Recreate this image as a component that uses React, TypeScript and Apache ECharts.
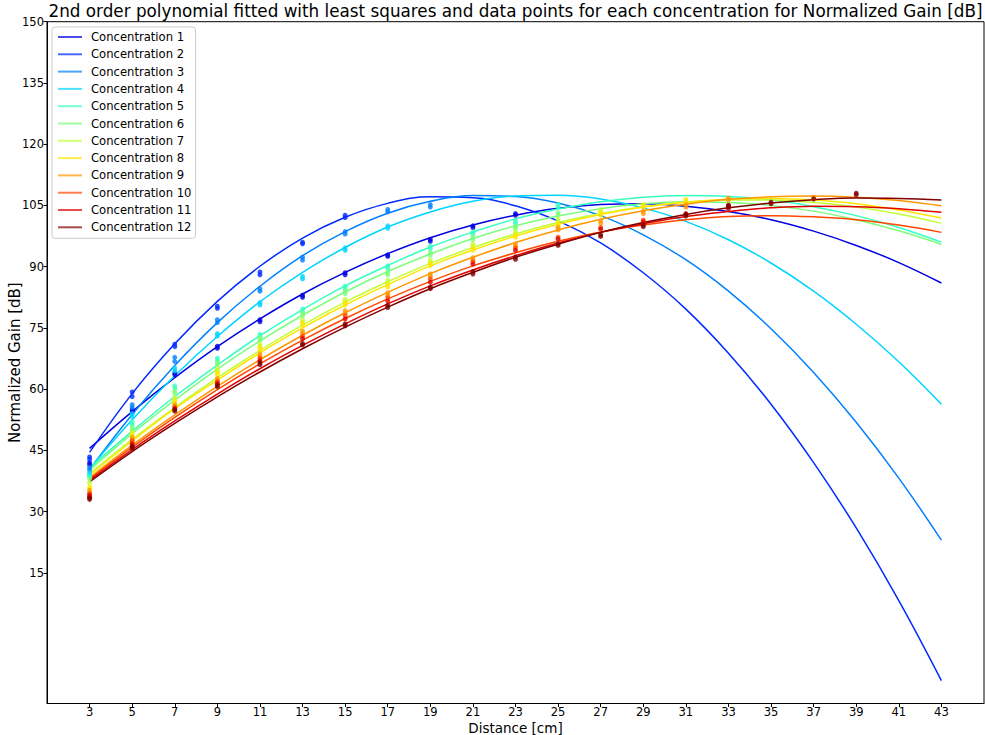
import React, { useEffect, useRef } from "react";
import * as echarts from "echarts";

const TITLE =
  "2nd order polynomial fitted with least squares and data points for each concentration for Normalized Gain [dB]";
const X_NAME = "Distance [cm]";
const Y_NAME = "Normalized Gain [dB]";

const distances = [3, 5, 7, 9, 11, 13, 15, 17, 19, 21, 23, 25, 27, 29, 31, 33, 35, 37, 39, 41, 43];
const xTicks = [3, 5, 7, 9, 11, 13, 15, 17, 19, 21, 23, 25, 27, 29, 31, 33, 35, 37, 39, 41, 43];
const yTicks = [15, 30, 45, 60, 75, 90, 105, 120, 135, 150];

const names = [
  "Concentration 1", "Concentration 2", "Concentration 3", "Concentration 4",
  "Concentration 5", "Concentration 6", "Concentration 7", "Concentration 8",
  "Concentration 9", "Concentration 10", "Concentration 11", "Concentration 12",
];

const colors = [
  "#0000e0", "#002aff", "#0080ff", "#00d4ff", "#36ffc0", "#7bff7b",
  "#c0ff36", "#ffe600", "#ff9700", "#ff4800", "#e00000", "#800000",
];

// fitted curve values at each distance
const fit1 = [45.5, 54.5, 62.8, 70.4, 77.2, 83.3, 88.6, 93.2, 97.1, 100.2, 102.6, 104.3, 105.2, 105.4, 104.8, 103.5, 101.5, 98.7, 95.2, 91.0, 86.0];
const fit2 = [44.5, 58.9, 71.1, 81.5, 90.1, 97.0, 102.1, 105.5, 107.1, 106.9, 104.9, 101.2, 95.8, 88.5, 79.6, 68.8, 56.3, 42.0, 26.0, 8.2, -11.4];
const fit3 = [40.3, 53.8, 65.8, 76.3, 85.2, 92.7, 98.6, 103.1, 106.0, 107.4, 107.2, 105.6, 102.5, 97.8, 91.7, 84.0, 74.8, 64.1, 51.9, 38.2, 23.0];
const fit4 = [40.5, 52.5, 63.3, 72.9, 81.4, 88.6, 94.7, 99.7, 103.4, 106.0, 107.3, 107.5, 106.6, 104.4, 101.1, 96.6, 90.9, 84.0, 75.9, 66.7, 56.3];
const fit5 = [40.7, 49.7, 58.2, 65.9, 73.1, 79.5, 85.3, 90.3, 94.8, 98.5, 101.7, 104.1, 105.9, 107.0, 107.4, 107.2, 106.3, 104.7, 102.5, 99.6, 96.0];
const fit6 = [40.2, 49.1, 57.3, 64.9, 71.8, 78.1, 83.8, 88.8, 93.1, 96.9, 100.0, 102.4, 104.2, 105.4, 105.9, 105.7, 105.0, 103.6, 101.5, 98.8, 95.5];
const fit7 = [39.3, 47.7, 55.5, 62.8, 69.5, 75.7, 81.3, 86.3, 90.8, 94.7, 98.0, 100.8, 103.0, 104.7, 105.8, 106.3, 106.3, 105.7, 104.6, 102.9, 100.6];
const fit8 = [38.9, 47.3, 55.2, 62.2, 68.9, 75.0, 80.6, 85.6, 90.2, 94.1, 97.5, 100.4, 102.8, 104.6, 105.8, 106.5, 106.7, 106.3, 105.4, 103.9, 101.9];
const fit9 = [38.3, 46.3, 53.7, 60.7, 67.2, 73.2, 78.7, 83.7, 88.3, 92.3, 95.9, 99.0, 101.6, 103.7, 105.3, 106.5, 107.1, 107.3, 107.0, 106.2, 104.9];
const fit10 = [38.0, 45.8, 53.1, 59.9, 66.2, 72.0, 77.3, 82.1, 86.4, 90.2, 93.4, 96.2, 98.5, 100.2, 101.5, 102.3, 102.5, 102.2, 101.5, 100.2, 98.4];
const fit11 = [37.7, 45.2, 52.2, 58.8, 65.0, 70.7, 76.0, 80.9, 85.3, 89.2, 92.7, 95.8, 98.4, 100.5, 102.3, 103.5, 104.4, 104.8, 104.7, 104.2, 103.3];
const fit12 = [37.3, 44.7, 51.6, 58.1, 64.2, 69.9, 75.2, 80.1, 84.6, 88.6, 92.3, 95.5, 98.4, 100.8, 102.8, 104.4, 105.6, 106.4, 106.8, 106.7, 106.3];

// measured data points [distance, gain]
const pts1 = [[3, 42.0], [3, 41.5], [5, 54.5], [5, 55.0], [7, 63.5], [7, 64.0], [9, 70.5], [9, 70.0], [11, 77.0], [11, 76.5], [13, 82.5], [13, 83.0], [15, 88.5], [15, 88.0], [17, 92.9], [17, 92.5], [19, 96.7], [19, 96.2], [21, 100.0], [21, 99.6], [23, 103.0], [23, 102.6]];
const pts2 = [[3, 43.4], [3, 42.8], [5, 59.3], [5, 58.2], [7, 71.0], [7, 70.4], [9, 80.3], [9, 79.8], [11, 88.7], [11, 88.0], [13, 96.0], [13, 95.6], [15, 102.6], [15, 102.0]];
const pts3 = [[3, 40.8], [3, 40.2], [5, 56.2], [5, 55.5], [7, 67.8], [7, 66.8], [9, 77.0], [9, 76.3], [11, 84.6], [11, 84.0], [13, 92.3], [13, 91.6], [15, 98.6], [15, 98.0], [17, 104.0], [17, 103.4], [19, 105.2], [19, 104.6]];
const pts4 = [[3, 39.5], [3, 38.9], [5, 54.0], [5, 53.3], [7, 65.2], [7, 64.5], [9, 73.6], [9, 73.0], [11, 81.2], [11, 80.6], [13, 87.6], [13, 87.0], [15, 94.6], [15, 94.0], [17, 100.0], [17, 99.4]];
const pts5 = [[3, 38.6], [5, 52.0], [5, 51.3], [7, 60.8], [7, 60.2], [9, 67.6], [9, 67.0], [11, 73.4], [11, 72.8], [13, 79.6], [13, 79.0], [15, 85.2], [15, 84.6], [17, 90.2], [17, 89.6], [19, 95.0], [19, 94.4], [21, 98.5], [21, 98.0], [23, 101.2], [23, 100.6], [25, 105.2], [25, 104.6]];
const pts6 = [[3, 38.0], [5, 50.6], [5, 50.0], [7, 59.6], [7, 59.0], [9, 66.5], [9, 66.0], [11, 72.6], [11, 72.0], [13, 78.6], [13, 78.0], [15, 84.0], [15, 83.4], [17, 88.6], [17, 88.0], [19, 93.4], [19, 92.8], [21, 97.2], [21, 96.6], [23, 99.8], [23, 99.3], [25, 103.2], [25, 102.7]];
const pts7 = [[3, 37.0], [5, 49.5], [7, 58.0], [7, 57.5], [9, 65.0], [9, 64.5], [11, 71.0], [11, 70.5], [13, 77.0], [13, 76.5], [15, 82.0], [15, 81.5], [17, 86.6], [17, 86.0], [19, 91.6], [19, 91.0], [21, 95.5], [21, 95.0], [23, 98.6], [23, 98.0], [25, 101.6], [25, 101.0], [27, 104.0], [27, 103.5]];
const pts8 = [[3, 36.0], [3, 35.5], [5, 49.0], [5, 48.4], [7, 57.2], [7, 56.6], [9, 64.2], [9, 63.6], [11, 70.2], [11, 69.6], [13, 76.2], [13, 75.6], [15, 81.2], [15, 80.6], [17, 85.6], [17, 85.0], [19, 90.8], [19, 90.2], [21, 94.6], [21, 94.0], [23, 97.8], [23, 97.2], [25, 100.6], [25, 100.0], [27, 103.2], [27, 102.6], [29, 105.2], [29, 104.6], [31, 106.5], [31, 106.0]];
const pts9 = [[3, 35.2], [3, 34.6], [5, 48.2], [5, 47.6], [7, 56.2], [7, 55.6], [9, 62.6], [9, 62.0], [11, 68.6], [11, 68.0], [13, 74.2], [13, 73.6], [15, 79.2], [15, 78.6], [17, 83.6], [17, 83.0], [19, 88.2], [19, 87.6], [21, 92.2], [21, 91.6], [23, 95.6], [23, 95.0], [25, 99.6], [25, 99.0], [27, 101.2], [27, 100.6], [29, 103.6], [29, 103.0], [31, 105.2], [31, 104.6], [33, 106.8], [33, 106.3], [37, 107.0], [37, 106.5]];
const pts10 = [[3, 34.4], [5, 47.4], [5, 46.8], [7, 55.6], [9, 61.8], [11, 67.6], [13, 73.0], [15, 78.0], [17, 82.4], [19, 87.0], [21, 91.2], [23, 94.6], [25, 97.2], [27, 99.6], [29, 101.4]];
const pts11 = [[3, 34.0], [3, 33.6], [5, 46.6], [5, 46.0], [7, 55.2], [9, 61.4], [11, 67.0], [13, 72.4], [15, 77.2], [17, 81.6], [19, 86.2], [21, 90.6], [23, 94.0], [25, 96.8], [27, 99.2], [29, 101.0], [31, 103.0], [33, 105.0], [33, 104.2]];
const pts12 = [[3, 33.4], [3, 33.0], [5, 46.0], [5, 45.5], [7, 55.0], [7, 54.6], [9, 61.0], [9, 60.6], [11, 66.5], [11, 66.0], [13, 71.2], [13, 70.8], [15, 76.0], [15, 75.5], [17, 80.5], [17, 80.0], [19, 85.0], [19, 84.6], [21, 88.8], [21, 88.2], [23, 92.4], [23, 91.8], [25, 95.6], [25, 95.2], [27, 97.8], [27, 97.4], [29, 100.2], [29, 99.8], [31, 102.8], [31, 102.4], [33, 105.0], [33, 104.6], [35, 105.8], [35, 105.4], [37, 106.6], [39, 108.0], [39, 107.6]];

const fits = [fit1, fit2, fit3, fit4, fit5, fit6, fit7, fit8, fit9, fit10, fit11, fit12];
const points = [pts1, pts2, pts3, pts4, pts5, pts6, pts7, pts8, pts9, pts10, pts11, pts12];

const FONT = "DejaVu Sans";

export default function App() {
  const ref = useRef<HTMLDivElement>(null);

  useEffect(() => {
    if (!ref.current) return;
    const chart = echarts.init(ref.current, null, { renderer: "svg" });

    const lineSeries = names.map((name, i) => ({
      name,
      type: "line",
      data: distances.map((d, j) => [d, fits[i][j]]),
      smooth: 0.4,
      symbol: "none",
      showSymbol: false,
      lineStyle: { color: colors[i], width: 1.5 },
      itemStyle: { color: colors[i] },
      z: 2,
    }));
    const scatterSeries = names.map((name, i) => ({
      name: name + " data",
      type: "scatter",
      data: points[i],
      symbol: "circle",
      symbolSize: 5,
      itemStyle: { color: colors[i] },
      z: 3,
    }));

    const option = {
      animation: false,
      backgroundColor: "#ffffff",
      textStyle: { fontFamily: FONT },
      title: {
        text: TITLE,
        left: 515.5,
        top: 1,
        textAlign: "center",
        padding: 0,
        textStyle: { fontFamily: FONT, fontSize: 16.8, lineHeight: 19, fontWeight: "normal", color: "#000" },
      },
      legend: {
        data: names,
        orient: "vertical",
        left: 52,
        top: 27,
        icon: "rect",
        itemWidth: 24,
        itemHeight: 2,
        itemGap: 3.3,
        padding: [3, 4, 4, 6],
        backgroundColor: "rgba(255,255,255,0.85)",
        borderColor: "#cccccc",
        borderWidth: 1,
        borderRadius: 3,
        itemStyle: { opacity: 0.7 },
        textStyle: { fontFamily: FONT, fontSize: 11.6, color: "#000", lineHeight: 14, padding: [0, 0, 0, 4] },
      },
      grid: {
        left: 47,
        right: 1,
        top: 21.7,
        bottom: 31.5,
        containLabel: false,
        outerBoundsMode: "none",
        show: true,
        borderColor: "#000",
        borderWidth: 1,
        backgroundColor: "transparent",
      },
      xAxis: {
        type: "value",
        min: 1,
        max: 45,
        name: X_NAME,
        nameLocation: "middle",
        nameGap: 17.5,
        nameMoveOverlap: false,
        nameTextStyle: { fontFamily: FONT, fontSize: 13.5, lineHeight: 14, color: "#000" },
        axisLine: { show: true, onZero: false, lineStyle: { color: "#000", width: 1 } },
        axisTick: { show: true, length: 3.5, customValues: xTicks, lineStyle: { color: "#000" } },
        axisLabel: { customValues: xTicks, fontFamily: FONT, fontSize: 11.5, lineHeight: 11, color: "#000", margin: 3 },
        splitLine: { show: false },
      },
      yAxis: {
        type: "value",
        min: -17,
        max: 150,
        name: Y_NAME,
        nameLocation: "middle",
        nameRotate: 90,
        nameGap: 24,
        nameMoveOverlap: false,
        nameTextStyle: { fontFamily: FONT, fontSize: 15, lineHeight: 17, color: "#000" },
        axisLine: { show: true, onZero: false, lineStyle: { color: "#000", width: 1 } },
        axisTick: { show: true, length: 3.5, customValues: yTicks, lineStyle: { color: "#000" } },
        axisLabel: { customValues: yTicks, fontFamily: FONT, fontSize: 11.5, color: "#000", margin: 3 },
        splitLine: { show: false },
      },
      series: [...lineSeries, ...scatterSeries],
    };

    chart.setOption(option as any);
    return () => chart.dispose();
  }, []);

  return (
    <div
      ref={ref}
      style={{ position: "fixed", left: 0, top: 0, width: 985, height: 735, background: "#fff" }}
    />
  );
}
